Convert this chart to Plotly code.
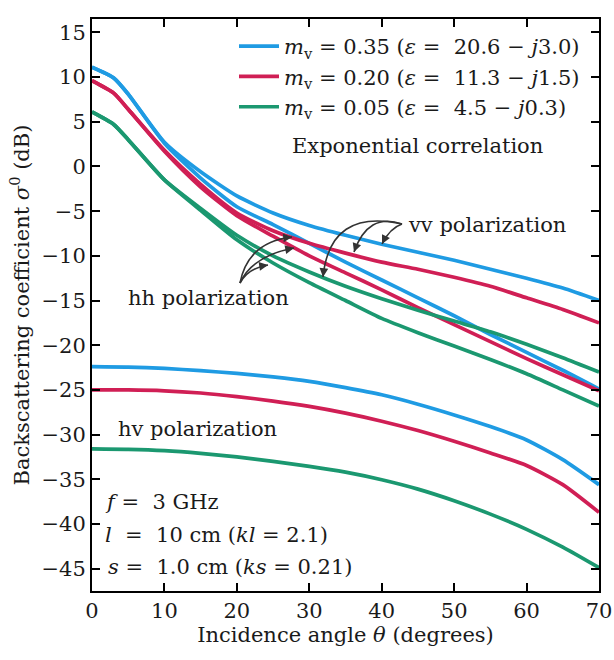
import plotly.graph_objects as go

# ---------------- data ----------------
angles_co = [0, 3, 5, 10, 15, 20, 25, 30, 35, 40, 45, 50, 55, 60, 65, 70]
vv_035 = [11.1, 9.9, 8.1, 2.7, -0.6, -3.3, -5.2, -6.6, -7.7, -8.7, -9.6, -10.5, -11.5, -12.5, -13.6, -15.0]
hh_035 = [11.1, 9.9, 8.1, 2.6, -1.3, -4.5, -6.5, -8.6, -10.7, -12.7, -14.7, -16.7, -18.8, -20.8, -22.8, -24.9]
vv_020 = [9.6, 8.2, 6.4, 1.8, -2.0, -5.2, -7.2, -8.6, -9.7, -10.7, -11.5, -12.4, -13.4, -14.7, -16.0, -17.5]
hh_020 = [9.6, 8.2, 6.4, 1.7, -2.3, -5.5, -7.8, -10.0, -11.9, -13.8, -15.8, -17.7, -19.6, -21.5, -23.3, -25.1]
vv_005 = [6.1, 4.7, 3.0, -1.5, -4.7, -7.7, -10.0, -11.8, -13.4, -14.8, -16.1, -17.3, -18.5, -19.9, -21.4, -23.0]
hh_005 = [6.1, 4.7, 3.0, -1.5, -4.9, -8.2, -10.8, -13.0, -15.0, -17.0, -18.6, -20.1, -21.6, -23.2, -25.0, -26.8]

angles_hv = [0, 5, 10, 15, 20, 25, 30, 35, 40, 45, 50, 55, 60, 65, 70]
hv_035 = [-22.4, -22.45, -22.6, -22.85, -23.15, -23.55, -24.05, -24.75, -25.55, -26.6, -27.8, -29.1, -30.6, -32.8, -35.6]
hv_020 = [-25.0, -25.0, -25.1, -25.35, -25.75, -26.25, -26.85, -27.6, -28.5, -29.55, -30.75, -32.05, -33.45, -35.6, -38.7]
hv_005 = [-31.6, -31.65, -31.8, -32.1, -32.5, -33.0, -33.55, -34.2, -35.05, -36.1, -37.4, -38.9, -40.6, -42.6, -44.9]

series_names = [
    "<i>m</i><sub>v</sub> = 0.35 (<i>ε</i> =\u00a0 20.6 − <i>j</i>3.0)",
    "<i>m</i><sub>v</sub> = 0.20 (<i>ε</i> =\u00a0 11.3 − <i>j</i>1.5)",
    "<i>m</i><sub>v</sub> = 0.05 (<i>ε</i> =\u00a0 4.5 − <i>j</i>0.3)",
]
colors = ["#1f9be3", "#d01f55", "#1b9870"]

x_ticks = [0, 10, 20, 30, 40, 50, 60, 70]
y_ticks = [15, 10, 5, 0, -5, -10, -15, -20, -25, -30, -35, -40, -45]

# ---------------- layout geometry ----------------
W, H = 614, 660
ML, MR, MT, MB = 92, 15, 19, 69
XR = [0, 70]
YR = [-47.5, 16.5]
PW, PH = W - ML - MR, H - MT - MB


def px2x(px):
    return XR[0] + (px - ML) / PW * (XR[1] - XR[0])


def py2y(py):
    return YR[1] - (py - MT) / PH * (YR[1] - YR[0])


FONT = "DejaVu Serif, serif"
FS = 21
TXT = "#1a1a1a"

fig = go.Figure()

groups = [
    (vv_035, hh_035, hv_035),
    (vv_020, hh_020, hv_020),
    (vv_005, hh_005, hv_005),
]
for i, (vv, hh, hv) in enumerate(groups):
    line = dict(color=colors[i], width=3.7, shape="spline", smoothing=0.6)
    fig.add_trace(go.Scatter(x=angles_co, y=vv, mode="lines", line=line,
                             name=series_names[i], legendgroup=str(i), showlegend=True))
    fig.add_trace(go.Scatter(x=angles_co, y=hh, mode="lines", line=line,
                             name=series_names[i], legendgroup=str(i), showlegend=False))
    fig.add_trace(go.Scatter(x=angles_hv, y=hv, mode="lines", line=line,
                             name=series_names[i], legendgroup=str(i), showlegend=False))

# ---------------- text annotations ----------------
def text_at(px, py, txt, anchor="left"):
    fig.add_annotation(x=px2x(px), y=py2y(py), xref="x", yref="y", text=txt,
                       showarrow=False, xanchor=anchor, yanchor="middle",
                       font=dict(family=FONT, size=FS, color=TXT))

text_at(290, 146, "Exponential correlation")
text_at(406, 225, "vv polarization")
text_at(126, 298, "hh polarization")
text_at(116, 429, "hv polarization")
text_at(103, 502, "<i>f</i> =  3 GHz")
text_at(103, 535, "<i>l</i>  =  10 cm (<i>kl</i> = 2.1)")
text_at(106, 567, "<i>s</i> =  1.0 cm (<i>ks</i> = 0.21)")

# ---------------- curved arrows ----------------
arrows = [
    ((402, 224), (390, 228), (382, 244)),
    ((402, 224), (368, 212), (354, 252)),
    ((402, 224), (330, 208), (323, 277)),
    ((240, 283), (248, 242), (292, 237)),
    ((240, 283), (252, 256), (294, 248)),
    ((240, 283), (248, 268), (268, 265)),
]
for p0, c, p1 in arrows:
    path = "M {},{} Q {},{} {},{}".format(px2x(p0[0]), py2y(p0[1]),
                                          px2x(c[0]), py2y(c[1]),
                                          px2x(p1[0]), py2y(p1[1]))
    fig.add_shape(type="path", path=path, xref="x", yref="y",
                  line=dict(color="#333", width=1.6))
    dx, dy = p1[0] - c[0], p1[1] - c[1]
    n = (dx * dx + dy * dy) ** 0.5
    fig.add_annotation(x=px2x(p1[0]), y=py2y(p1[1]), xref="x", yref="y", text="",
                       showarrow=True, arrowhead=2, arrowsize=1.1, arrowwidth=1.6,
                       arrowcolor="#333", ax=-dx / n * 9, ay=-dy / n * 9)

axis_common = dict(
    showline=True, linecolor="black", linewidth=2, mirror="ticks",
    ticks="inside", ticklen=8, tickwidth=1.5, tickcolor="black",
    showgrid=False, zeroline=False, ticklabeloverflow="allow",
    tickfont=dict(family=FONT, size=FS, color=TXT),
)

fig.update_layout(
    width=W, height=H,
    margin=dict(l=ML, r=MR, t=MT, b=MB),
    paper_bgcolor="white", plot_bgcolor="white",
    font=dict(family=FONT, size=FS, color=TXT),
    xaxis=dict(range=XR, tickvals=x_ticks, automargin=False,
               title=dict(text="Incidence angle <i>θ</i> (degrees)", standoff=2,
                          font=dict(family=FONT, size=FS, color=TXT)),
               **axis_common),
    yaxis=dict(range=YR, tickvals=y_ticks, automargin=False,
               title=dict(text="Backscattering coefficient <i>σ</i><sup>0</sup> (dB)", standoff=6,
                          font=dict(family=FONT, size=FS, color=TXT)),
               **axis_common),
    legend=dict(x=(234 - ML) / PW, y=(H - MB - 26) / PH, xanchor="left", yanchor="top",
                bgcolor="rgba(0,0,0,0)", font=dict(family=FONT, size=FS, color=TXT),
                itemwidth=40, tracegroupgap=0),
    showlegend=True,
)

fig.write_html("out.html")
